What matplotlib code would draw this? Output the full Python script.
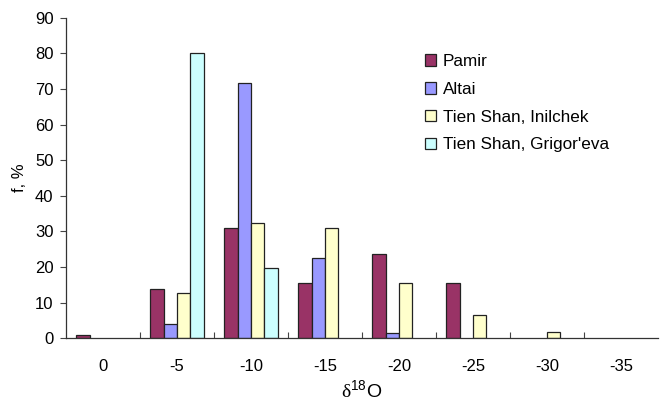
import numpy as np
import matplotlib
matplotlib.use("Agg")
import matplotlib.pyplot as plt

plt.rcParams['font.family'] = ['Liberation Sans', 'DejaVu Sans']
plt.rcParams['mathtext.fontset'] = 'custom'
plt.rcParams['mathtext.rm'] = 'Liberation Serif'
plt.rcParams['mathtext.sf'] = 'Liberation Sans'

# delta 18O classes and share of samples (%) per region
classes = ['0', '-5', '-10', '-15', '-20', '-25', '-30', '-35']
pamir = [0.8, 13.8, 31.0, 15.4, 23.8, 15.4, 0, 0]
altai = [0, 4.1, 71.8, 22.6, 1.5, 0, 0, 0]
inilchek = [0, 12.8, 32.5, 31.0, 15.4, 6.6, 1.9, 0]
grigoreva = [0, 80.0, 19.7, 0, 0, 0, 0, 0]

series = [
    ('Pamir', pamir, '#993366'),
    ('Altai', altai, '#9999FF'),
    ('Tien Shan, Inilchek', inilchek, '#FFFFCC'),
    ("Tien Shan, Grigor'eva", grigoreva, '#CCFFFF'),
]

fig = plt.figure(figsize=(6.61, 4.03), dpi=100)
ax = fig.add_axes([66 / 661, 1 - 338.3 / 403, (658 - 66) / 661, (338.3 - 17.7) / 403])

x = np.arange(len(classes))
w = 0.18
for i, (name, vals, col) in enumerate(series):
    vals = np.array(vals, dtype=float)
    pos = x + (i - 1.5) * w
    mask = vals > 0
    ax.bar(pos[mask], vals[mask], width=w, color=col, edgecolor='#222222',
           linewidth=0.9, label=name)

ax.set_xlim(-0.5, len(classes) - 0.5)
ax.set_ylim(0, 90)
ax.set_yticks(range(0, 91, 10))
ax.set_xticks(x)
ax.set_xticklabels(classes)
ax.set_xticks(np.arange(0.5, len(classes) - 1, 1), minor=True)

ax.tick_params(axis='x', which='major', length=0, pad=15, labelsize=12)
ax.tick_params(axis='x', which='minor', direction='in', length=4, width=0.8, color='#444444')
ax.tick_params(axis='y', direction='out', length=4, width=0.8, labelsize=12, pad=5, color='#444444')

for s in ['top', 'right']:
    ax.spines[s].set_visible(False)
for s in ['left', 'bottom']:
    ax.spines[s].set_linewidth(0.9)
    ax.spines[s].set_color('#333333')

ax.set_ylabel('f, %', fontsize=12, labelpad=6)
ax.set_xlabel(r'$\mathrm{\delta}^{\mathsf{18}}$O', fontsize=14, labelpad=4)

ax.legend(loc='upper left', bbox_to_anchor=(425 / 661, 1 - 54 / 403),
          bbox_transform=fig.transFigure, frameon=False, fontsize=12.3,
          handlelength=0.65, handleheight=0.65, handletextpad=0.4,
          labelspacing=0.75, borderpad=0, borderaxespad=0)

fig.savefig('out.png', dpi=100)
